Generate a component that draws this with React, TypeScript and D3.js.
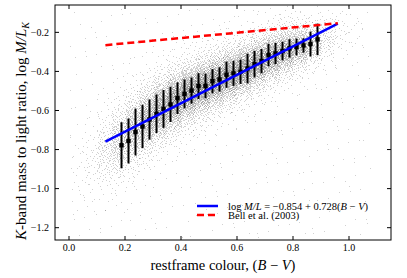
import React, { useMemo } from "react";
import * as d3 from "d3";

// binned means with error bars (restframe B-V vs log M/L_K)
const binColour = [0.1875, 0.2125, 0.2375, 0.2625, 0.2875, 0.3125, 0.3375, 0.3625, 0.3875, 0.4125, 0.4375, 0.4625, 0.4875, 0.5125, 0.5375, 0.5625, 0.5875, 0.6125, 0.6375, 0.6625, 0.6875, 0.7125, 0.7375, 0.7625, 0.7875, 0.8125, 0.8375, 0.8625, 0.8875];
const binLogML = [-0.778, -0.756, -0.71, -0.682, -0.646, -0.617, -0.592, -0.569, -0.537, -0.515, -0.498, -0.475, -0.474, -0.45, -0.441, -0.417, -0.41, -0.402, -0.385, -0.363, -0.347, -0.316, -0.308, -0.296, -0.282, -0.275, -0.267, -0.26, -0.236];
const binErr = [0.118, 0.115, 0.12, 0.111, 0.103, 0.099, 0.097, 0.09, 0.081, 0.074, 0.067, 0.066, 0.063, 0.062, 0.062, 0.067, 0.064, 0.062, 0.076, 0.068, 0.062, 0.058, 0.054, 0.048, 0.047, 0.043, 0.037, 0.064, 0.081];

// the grey galaxy cloud, read as density per 0.05-wide colour bin
const cloudColour = [0.025, 0.075, 0.125, 0.175, 0.225, 0.275, 0.325, 0.375, 0.425, 0.475, 0.525, 0.575, 0.625, 0.675, 0.725, 0.775, 0.825, 0.875, 0.925, 0.975, 1.025];
const cloudCount = [15, 50, 150, 330, 520, 700, 850, 950, 1000, 980, 940, 900, 850, 800, 720, 620, 460, 240, 90, 30, 12];
const cloudMid = [-0.88, -0.85, -0.81, -0.76, -0.7, -0.645, -0.595, -0.55, -0.51, -0.478, -0.447, -0.417, -0.387, -0.355, -0.322, -0.293, -0.272, -0.252, -0.232, -0.21, -0.19];
const cloudSpread = [0.07, 0.066, 0.062, 0.058, 0.054, 0.05, 0.047, 0.045, 0.043, 0.042, 0.041, 0.04, 0.039, 0.038, 0.037, 0.036, 0.035, 0.035, 0.038, 0.042, 0.046];
const bgCount = 450;

// fitted relations: [intercept, slope]
const fitRel = [-0.854, 0.728];
const bellRel = [-0.283, 0.135];
const relRange = [0.13, 0.96];

const xTicks = [0, 0.2, 0.4, 0.6, 0.8, 1.0];
const yTicks = [-1.2, -1.0, -0.8, -0.6, -0.4, -0.2];

const W = 407;
const H = 278;
const left = 55, right = 391, top = 5, bottom = 240;
const serif = "'Liberation Serif', 'Times New Roman', serif";

function halton(i: number, b: number) {
  let f = 1, r = 0;
  while (i > 0) {
    f = f / b;
    r = r + f * (i % b);
    i = Math.floor(i / b);
  }
  return r;
}

const fmt = (v: number) => (v < 0 ? "\u2212" : "") + Math.abs(v).toFixed(1);

export default function App() {
  const x = d3.scaleLinear().domain([-0.05, 1.15]).range([left, right]);
  const y = d3.scaleLinear().domain([-1.263, -0.06]).range([bottom, top]);

  const dots = useMemo(() => {
    const pts: [number, number][] = [];
    cloudColour.forEach((c, k) => {
      for (let j = 1; j <= cloudCount[k]; j++) {
        const u1 = halton(j + k * 977, 2);
        let u2 = halton(j + k * 977, 3);
        u2 = Math.min(Math.max(u2, 0.001), 0.999);
        const px = c - 0.025 + u1 * 0.05;
        const py = cloudMid[k] + cloudSpread[k] * Math.log(u2 / (1 - u2));
        pts.push([px, py]);
      }
    });
    for (let j = 1; j <= bgCount; j++) {
      pts.push([0.0 + halton(j + 50000, 5) * 1.08, -1.25 + halton(j + 50000, 7) * 1.17]);
    }
    return pts
      .map(([a, b]) => [Math.round(x(a)), Math.round(y(b))])
      .filter(([a, b]) => a > left && a < right && b > top && b < bottom);
  }, []);

  const relLine = (rel: number[]) =>
    d3.line<number>().x((d) => x(d)).y((d) => y(rel[0] + rel[1] * d))(relRange) || "";

  return (
    <svg width={W} height={H} style={{ position: "absolute", left: 0, top: 0, background: "#fff" }}>
      <g shapeRendering="crispEdges">
        {dots.map(([a, b], i) => (
          <rect key={i} x={a} y={b} width={1} height={1} fill="#000" opacity={0.18} />
        ))}
      </g>

      {binColour.map((c, i) => (
        <line key={"e" + i} x1={x(c)} x2={x(c)} y1={y(binLogML[i] - binErr[i])} y2={y(binLogML[i] + binErr[i])} stroke="#000" strokeWidth={2} />
      ))}
      {binColour.map((c, i) => (
        <rect key={"m" + i} x={x(c) - 2.2} y={y(binLogML[i]) - 2.2} width={4.4} height={4.4} fill="#000" />
      ))}

      <path d={relLine(fitRel)} stroke="#0000ff" strokeWidth={2.5} fill="none" />
      <path d={relLine(bellRel)} stroke="#ff0000" strokeWidth={2.5} strokeDasharray="7,4" fill="none" />

      {/* legend */}
      <line x1={197} x2={218} y1={206} y2={206} stroke="#0000ff" strokeWidth={2.5} />
      <line x1={197} x2={218} y1={215} y2={215} stroke="#ff0000" strokeWidth={2.5} strokeDasharray="7,4" />
      <text x={228} y={209.5} fontFamily={serif} fontSize={10.5}>
        {"log "}<tspan fontStyle="italic">M/L</tspan>{" = \u22120.854 + 0.728("}<tspan fontStyle="italic">B</tspan>{" \u2212 "}<tspan fontStyle="italic">V</tspan>{")"}
      </text>
      <text x={228} y={219} fontFamily={serif} fontSize={10.5}>Bell et al. (2003)</text>

      {/* frame and ticks */}
      <rect x={left} y={top} width={right - left} height={bottom - top} fill="none" stroke="#000" strokeWidth={1} />
      {xTicks.map((t) => (
        <g key={"xt" + t}>
          <line x1={x(t)} x2={x(t)} y1={bottom} y2={bottom - 4} stroke="#000" />
          <line x1={x(t)} x2={x(t)} y1={top} y2={top + 4} stroke="#000" />
          <text x={x(t)} y={251} textAnchor="middle" fontFamily={serif} fontSize={10}>{t.toFixed(1)}</text>
        </g>
      ))}
      {yTicks.map((t) => (
        <g key={"yt" + t}>
          <line x1={left} x2={left + 4} y1={y(t)} y2={y(t)} stroke="#000" />
          <line x1={right} x2={right - 4} y1={y(t)} y2={y(t)} stroke="#000" />
          <text x={49} y={y(t) + 3.5} textAnchor="end" fontFamily={serif} fontSize={10}>{fmt(t)}</text>
        </g>
      ))}

      <text x={(left + right) / 2} y={270} textAnchor="middle" fontFamily={serif} fontSize={14.5}>
        {"restframe colour, ("}<tspan fontStyle="italic">B</tspan>{" \u2212 "}<tspan fontStyle="italic">V</tspan>{")"}
      </text>
      <text transform={`translate(26,131) rotate(-90)`} textAnchor="middle" fontFamily={serif} fontSize={15}>
        <tspan fontStyle="italic">K</tspan>{"-band mass to light ratio, log "}<tspan fontStyle="italic">M/L</tspan><tspan fontStyle="italic" fontSize={10} dy={3}>K</tspan>
      </text>
    </svg>
  );
}
